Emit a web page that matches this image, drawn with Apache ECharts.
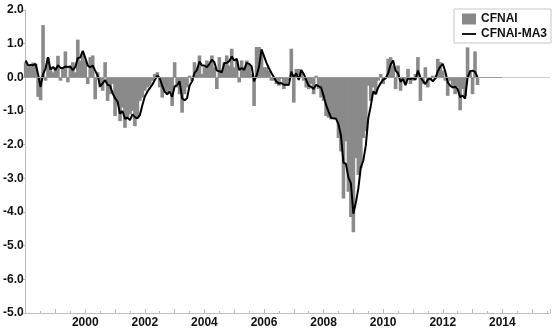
<!DOCTYPE html>
<html>
<head>
<meta charset="utf-8">
<script src="https://cdn.jsdelivr.net/npm/echarts@6/dist/echarts.min.js"></script>
<style>
html,body{margin:0;padding:0;background:#fff;}
#c{width:553px;height:334px;}
</style>
</head>
<body>
<div id="c"></div>
<script>
// Monthly observations, starting January 1998
const startYear = 1998;
const cfnai = [
 0.45, 0.3, 0.35, 0.44, 0.4, -0.58, -0.68, 1.55, -0.1, 0.57, 0.2, 0.15,
 0.3, 0.64, -0.1, 0.3, 0.77, -0.15, 0.34, 0.45, 0.15, 1.12, 0.5, 0.75,
 0.5, -0.2, 0.6, 0.65, -0.65, 0.15, -0.3, -0.4, 0.45, -0.7, -0.5, -0.2,
 -1.15, -0.8, -1.3, -0.9, -1.5, -1.2, -1.1, -1.0, -1.45, -1.2, -0.7, -0.6,
 -0.4, -0.3, -0.25, -0.1, 0.1, 0.15, -0.3, -0.6, -0.4, -0.5, -0.4, -0.85,
 0.45, -0.3, -0.5, -1.05, -0.5, -0.3, 0.05, -0.1, 0.45, 0.3, 0.65, 0.1,
 0.3, 0.5, 0.4, 0.65, 0.3, -0.35, 0.6, 0.2, 0.45, 0.65, 0.35, 0.85,
 0.3, 0.5, -0.15, 0.5, 0.3, 0.5, 0.4, 0.1, -0.85, 0.9, 0.9, 0.7,
 0.3, 0.3, 0.2, -0.1, -0.1, -0.2, -0.25, -0.05, -0.35, -0.25, -0.1, 0.85,
 -0.75, 0.25, 0.25, 0.15, -0.1, -0.3, -0.35, -0.2, -0.5, 0.05, -0.35, -0.6,
 -0.7, -1.15, -1.2, -1.25, -1.2, -1.2, -1.8, -2.2, -3.6, -1.9, -3.4, -4.15,
 -4.6, -2.4, -2.9, -2.7, -1.8, -1.6, -0.25, -0.7, -0.3, -0.5, -0.1, 0.1,
 -0.2, 0.0, 0.55, 0.6, 0.35, -0.35, 0.35, -0.4, -0.1, -0.2, 0.25, -0.2,
 -0.1, 0.1, 0.6, -0.7, -0.2, 0.3, -0.3, -0.1, 0.05, -0.05, 0.55, 0.45,
 0.2, -0.1, -0.55, -0.1, -0.25, -0.5, -0.3, -0.98, -0.35, -0.55, 0.89, 0.2,
 -0.5, 0.77, -0.23
];
const cfnaiMA3 = [
 0.5, 0.35, 0.37, 0.36, 0.4, 0.09, -0.29, 0.1, 0.26, 0.6, 0.22, 0.31,
 0.22, 0.36, 0.28, 0.28, 0.32, 0.31, 0.32, 0.21, 0.31, 0.57, 0.59, 0.79,
 0.58, 0.35, 0.3, 0.35, 0.2, 0.05, -0.27, -0.18, -0.08, -0.22, -0.25, -0.47,
 -0.62, -0.72, -1.08, -1.0, -1.23, -1.2, -1.27, -1.1, -1.18, -1.22, -1.12, -0.83,
 -0.57, -0.43, -0.32, -0.22, -0.08, 0.05, -0.02, -0.25, -0.43, -0.5, -0.43, -0.58,
 -0.27, -0.23, -0.12, -0.62, -0.68, -0.62, -0.25, -0.12, 0.13, 0.22, 0.47, 0.35,
 0.35, 0.3, 0.4, 0.52, 0.45, 0.2, 0.18, 0.15, 0.42, 0.43, 0.48, 0.62,
 0.5, 0.55, 0.22, 0.28, 0.22, 0.43, 0.4, 0.33, -0.12, 0.05, 0.32, 0.83,
 0.63, 0.43, 0.27, 0.13, 0.0, -0.13, -0.18, -0.17, -0.22, -0.22, -0.23, 0.17,
 0.0, 0.12, -0.08, 0.22, 0.1, -0.08, -0.25, -0.28, -0.35, -0.22, -0.27, -0.3,
 -0.55, -0.82, -1.02, -1.2, -1.22, -1.22, -1.4, -1.73, -2.53, -2.57, -2.97, -3.15,
 -4.05, -3.72, -3.3, -2.67, -2.47, -2.03, -1.22, -0.85, -0.42, -0.5, -0.3, -0.17,
 -0.07, -0.03, 0.12, 0.38, 0.5, 0.2, 0.12, -0.13, -0.05, -0.23, -0.02, -0.05,
 -0.02, -0.07, 0.2, 0.0, -0.1, -0.2, -0.07, -0.03, -0.12, -0.03, 0.18, 0.32,
 0.4, 0.18, -0.15, -0.25, -0.3, -0.28, -0.35, -0.59, -0.54, -0.63, 0.0, 0.18,
 0.2, 0.16, 0.01
];
const xTickLabels = ['2000', '2002', '2004', '2006', '2008', '2010', '2012', '2014'];
// y tick labels from -7 to 2 (bottom label as printed in the original)
const yTickValues = [-7, -6, -5, -4, -3, -2, -1, 0, 1, 2];
const yTickLabels = ['-5.0', '-6.0', '-5.0', '-4.0', '-3.0', '-2.0', '-1.0', '0.0', '1.0', '2.0'];
const seriesNames = ['CFNAI', 'CFNAI-MA3'];

const xOf = i => startYear + i / 12;
const barData = cfnai.map((v, i) => [xOf(i), v]);
const lineData = cfnaiMA3.map((v, i) => [xOf(i), v]);

const font = '"Liberation Sans", Arial, sans-serif';
const axisGray = '#bdbdbd';

const chart = echarts.init(document.getElementById('c'), null, {renderer: 'canvas'});
chart.setOption({
  animation: false,
  backgroundColor: '#fff',
  grid: {left: 24, right: 0, top: 10, bottom: 21},
  legend: {
    orient: 'vertical',
    left: 454, top: 9,
    padding: [4, 4, 3, 8],
    itemWidth: 14, itemHeight: 11, itemGap: 3,
    borderColor: '#c8c8c8', borderWidth: 1,
    textStyle: {fontFamily: font, fontWeight: 'bold', fontSize: 12, color: '#111'},
    data: [
      {name: seriesNames[0], icon: 'rect', itemStyle: {color: '#888888'}},
      {name: seriesNames[1], icon: 'path://M0,0L14,0L14,1.8L0,1.8Z', itemStyle: {color: '#000'}}
    ]
  },
  xAxis: {
    type: 'value',
    min: 1998, max: 2015.6, interval: 1,
    axisLine: {onZero: false, lineStyle: {color: axisGray, width: 1}},
    axisTick: {show: true, inside: true, length: 4, lineStyle: {color: axisGray}},
    minorTick: {show: true, splitNumber: 2, length: 2, lineStyle: {color: axisGray}},
    splitLine: {show: false},
    axisLabel: {
      margin: 4,
      fontFamily: font, fontWeight: 'bold', fontSize: 12, color: '#111',
      formatter: v => (xTickLabels.indexOf(String(v)) >= 0 ? String(v) : '')
    }
  },
  yAxis: {
    type: 'value',
    min: -7, max: 2, interval: 1,
    axisLine: {show: true, lineStyle: {color: axisGray, width: 1}},
    axisTick: {show: true, length: 3, lineStyle: {color: axisGray}},
    splitLine: {show: false},
    axisLabel: {
      margin: 2,
      fontFamily: font, fontWeight: 'bold', fontSize: 12, color: '#111',
      formatter: v => {
        const k = yTickValues.indexOf(Math.round(v));
        return k >= 0 ? yTickLabels[k] : '';
      }
    }
  },
  series: [
    {
      name: seriesNames[0],
      type: 'bar',
      data: barData,
      barWidth: 3.6,
      itemStyle: {color: '#8a8a8a'},
      markLine: {
        silent: true, symbol: 'none', label: {show: false},
        data: [
          [{coord: [1998, 0], lineStyle: {color: '#9a9a9a', width: 1, type: 'solid'}}, {coord: [2014, 0]}],
          [{coord: [2014, 0], lineStyle: {color: '#cfcfcf', width: 1, type: 'solid'}}, {coord: [2015.6, 0]}]
        ]
      }
    },
    {
      name: seriesNames[1],
      type: 'line',
      data: lineData,
      symbol: 'none',
      showSymbol: false,
      lineStyle: {color: '#000', width: 2},
      itemStyle: {color: '#000'}
    }
  ]
});
</script>
</body>
</html>
